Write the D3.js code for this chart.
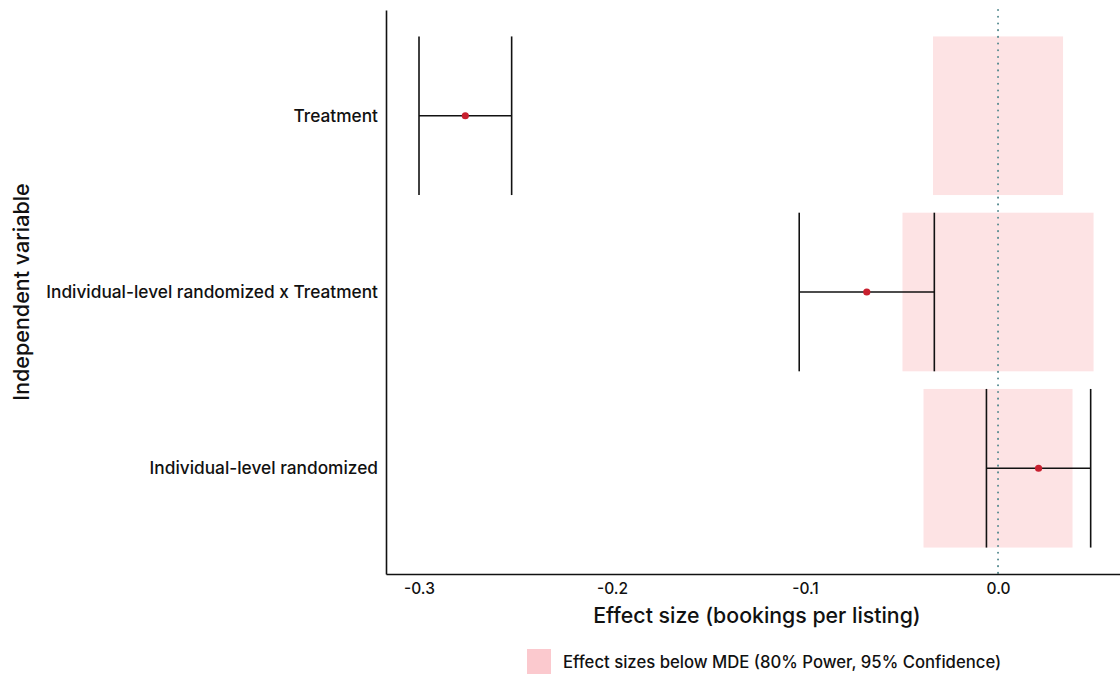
<!DOCTYPE html>
<html>
<head>
<meta charset="utf-8">
<script src="https://cdn.jsdelivr.net/npm/d3@7"></script>
<style>
  body { margin: 0; background: #fff; }
  svg text { font-family: Inter, "Noto Sans", sans-serif; font-weight: 500; fill: #111; }
</style>
</head>
<body>
<div id="vis"></div>
<script>
// categories top to bottom
const terms = ['Treatment', 'Individual-level randomized x Treatment', 'Individual-level randomized'];
const estimates = [-0.276, -0.068, 0.021];
const ciLow = [-0.300, -0.103, -0.006];
const ciHigh = [-0.252, -0.033, 0.048];
const mde = [0.0337, 0.0495, 0.0386];   // half-width of the MDE band around zero
const xTicks = [-0.3, -0.2, -0.1, 0.0];

const W = 1120, H = 674;
const plot = { left: 386, right: 1120, top: 10, bottom: 574 };

const svg = d3.select('#vis').append('svg')
    .attr('width', W)
    .attr('height', H);

const x = d3.scaleLinear()
    .domain([-0.3171, 0.0632])
    .range([plot.left, plot.right]);

const y = d3.scalePoint()
    .domain(terms)
    .range([plot.top, plot.bottom])
    .padding(0.6);

const band = y.step() * 0.9;

const rows = terms.map((t, i) => ({
    term: t, est: estimates[i], lo: ciLow[i], hi: ciHigh[i], mde: mde[i]
}));

// MDE bands
svg.append('g').selectAll('rect')
    .data(rows)
    .join('rect')
        .attr('x', d => x(-d.mde))
        .attr('width', d => x(d.mde) - x(-d.mde))
        .attr('y', d => y(d.term) - band / 2)
        .attr('height', band)
        .attr('fill', '#fde3e4');

// zero reference
svg.append('line')
    .attr('x1', x(0)).attr('x2', x(0))
    .attr('y1', plot.top).attr('y2', plot.bottom)
    .attr('stroke', '#5a8d92')
    .attr('stroke-width', 2)
    .attr('stroke-linecap', 'round')
    .attr('stroke-dasharray', '0.1 6.6');

// error bars
const eb = svg.append('g').attr('stroke', '#111').attr('stroke-width', 1.6);
eb.selectAll('.h')
    .data(rows)
    .join('line')
        .attr('x1', d => x(d.lo)).attr('x2', d => x(d.hi))
        .attr('y1', d => y(d.term)).attr('y2', d => y(d.term));
eb.selectAll('.lo')
    .data(rows)
    .join('line')
        .attr('class', 'lo')
        .attr('x1', d => x(d.lo)).attr('x2', d => x(d.lo))
        .attr('y1', d => y(d.term) - band / 2).attr('y2', d => y(d.term) + band / 2);
eb.selectAll('.hi')
    .data(rows)
    .join('line')
        .attr('class', 'hi')
        .attr('x1', d => x(d.hi)).attr('x2', d => x(d.hi))
        .attr('y1', d => y(d.term) - band / 2).attr('y2', d => y(d.term) + band / 2);

svg.append('g').selectAll('circle')
    .data(rows)
    .join('circle')
        .attr('cx', d => x(d.est))
        .attr('cy', d => y(d.term))
        .attr('r', 3.6)
        .attr('fill', '#c8202f');

// axes
const fmt = d => d3.format('.1f')(d).replace('\u2212', '-');
const xAxis = svg.append('g')
    .attr('transform', `translate(0,${plot.bottom})`)
    .call(d3.axisBottom(x).tickValues(xTicks).tickFormat(fmt).tickSize(0).tickPadding(9));
xAxis.select('.domain').attr('stroke', '#111').attr('stroke-width', 1.6);
xAxis.selectAll('text').style('font-size', '15.5px').attr('fill', '#111');

const yAxis = svg.append('g')
    .attr('transform', `translate(${plot.left},0)`)
    .call(d3.axisLeft(y).tickSize(0).tickPadding(8));
yAxis.select('.domain').attr('stroke', '#111').attr('stroke-width', 1.6);
yAxis.selectAll('text').style('font-size', '17.3px').attr('fill', '#111');

// titles
svg.append('text')
    .attr('x', (plot.left + plot.right) / 2 + 4)
    .attr('y', 623)
    .attr('text-anchor', 'middle')
    .style('font-size', '21.3px')
    .text('Effect size (bookings per listing)');

svg.append('text')
    .attr('transform', `translate(29,${(plot.top + plot.bottom) / 2}) rotate(-90)`)
    .attr('text-anchor', 'middle')
    .style('font-size', '21.5px')
    .text('Independent variable');

// legend
const legend = svg.append('g').attr('transform', 'translate(527,649)');
legend.append('rect')
    .attr('width', 24).attr('height', 25)
    .attr('fill', '#fbc9ce');
legend.append('text')
    .attr('x', 36).attr('y', 13)
    .attr('dy', '0.35em')
    .style('font-size', '16.7px')
    .text('Effect sizes below MDE (80% Power, 95% Confidence)');
</script>
</body>
</html>
